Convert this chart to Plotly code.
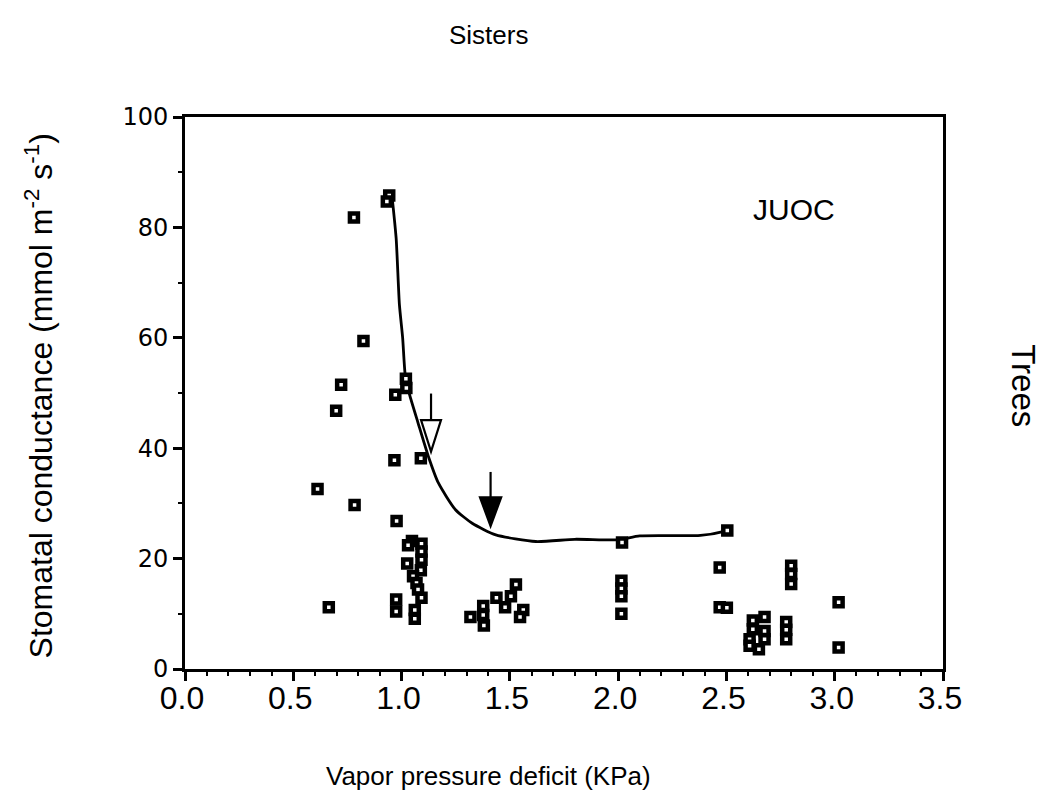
import plotly.graph_objects as go

# Measured stomatal conductance vs. vapour pressure deficit (Juniperus occidentalis, Sisters site)
vpd = [
    0.943, 0.932, 0.780, 0.824, 0.721, 1.020, 1.022, 0.971, 0.698, 0.967,
    1.089, 0.612, 0.783, 0.977, 1.048, 1.030, 1.092, 1.092, 1.092, 1.026,
    1.089, 1.053, 1.069, 1.076, 1.092, 1.061, 1.061, 0.975, 0.975, 0.664,
    1.318, 1.377, 1.377, 1.380, 1.438, 1.478, 1.505, 1.528, 1.562, 1.547,
    2.018, 2.015, 2.015, 2.015, 2.015, 2.504, 2.469, 2.469, 2.502,
    2.799, 2.799, 2.799, 3.018, 3.018,
    2.676, 2.622, 2.622, 2.676, 2.607, 2.676, 2.607, 2.650,
    2.776, 2.776, 2.776,
]
gs = [
    85.8, 84.7, 81.8, 59.4, 51.5, 52.6, 50.9, 49.7, 46.8, 37.8,
    38.2, 32.6, 29.7, 26.8, 23.2, 22.4, 22.7, 21.3, 19.8, 19.1,
    17.9, 16.8, 15.6, 14.4, 12.9, 10.7, 9.1, 12.6, 10.4, 11.2,
    9.4, 11.4, 9.8, 7.9, 12.9, 11.2, 13.2, 15.3, 10.7, 9.4,
    22.9, 16.0, 14.6, 13.2, 10.0, 25.1, 18.4, 11.2, 11.1,
    18.7, 17.2, 15.4, 12.1, 3.9,
    9.4, 8.8, 7.2, 6.9, 5.4, 5.4, 4.2, 3.6,
    8.5, 7.1, 5.4,
]

# Boundary line (upper envelope of conductance)
curve_vpd = [0.955, 0.975, 0.99, 1.005, 1.017, 1.037, 1.076, 1.123, 1.170, 1.248,
             1.326, 1.435, 1.62, 1.80, 2.00, 2.10, 2.38, 2.484, 2.504]
curve_gs = [86.0, 78.0, 66.0, 60.0, 53.2, 49.7, 44.6, 38.6, 33.7, 28.9,
            26.4, 24.3, 23.1, 23.5, 23.4, 24.1, 24.2, 24.9, 25.2]

# Arrows: (x, shaft top, head top, tip, half head width)
open_arrow = (1.136, 49.9, 45.1, 39.4, 0.046)
solid_arrow = (1.411, 35.7, 31.1, 25.9, 0.049)

x_ticks = [0.0, 0.5, 1.0, 1.5, 2.0, 2.5, 3.0, 3.5]
x_tick_text = ["0.0", "0.5", "1.0", "1.5", "2.0", "2.5", "3.0", "3.5"]
y_ticks = [0, 20, 40, 60, 80, 100]
y_tick_text = ["0", "20", "40", "60", "80", "100"]

fig = go.Figure()

fig.add_trace(go.Scatter(
    x=curve_vpd, y=curve_gs, mode="lines",
    line=dict(color="black", width=2.8, shape="spline", smoothing=0.6),
    hoverinfo="skip", showlegend=False,
))

fig.add_trace(go.Scatter(
    x=vpd, y=gs, mode="markers",
    marker=dict(symbol="square", size=8, color="white",
                line=dict(color="black", width=4.5)),
    showlegend=False,
))

shapes = []
for (ax, top, head, tip, hw), fill in ((open_arrow, "white"), (solid_arrow, "black")):
    shapes.append(dict(type="line", xref="x", yref="y", x0=ax, x1=ax, y0=top, y1=head,
                       line=dict(color="black", width=2.2)))
    shapes.append(dict(type="path", xref="x", yref="y",
                       path=f"M {ax - hw},{head} L {ax + hw},{head} L {ax},{tip} Z",
                       fillcolor=fill, line=dict(color="black", width=2.2)))

text_font = dict(family="Liberation Sans, Arial, sans-serif", color="black")

annotations = [
    dict(text="Sisters", xref="paper", yref="paper", x=0.4, y=1.149,
         showarrow=False, font=dict(size=26, **text_font), xanchor="center", yanchor="middle"),
    dict(text="JUOC", xref="x", yref="y", x=2.81, y=83.3,
         showarrow=False, font=dict(size=30, **text_font), xanchor="center", yanchor="middle"),
    dict(text="Trees", xref="paper", yref="paper", x=1.107, y=0.514, textangle=90,
         showarrow=False, font=dict(size=33, **text_font), xanchor="center", yanchor="middle"),
    dict(text="Vapor pressure deficit (KPa)", xref="paper", yref="paper", x=0.4, y=-0.193,
         showarrow=False, font=dict(size=26, **text_font), xanchor="center", yanchor="middle"),
    dict(text="Stomatal conductance (mmol m<sup>-2</sup> s<sup>-1</sup>)",
         xref="paper", yref="paper", x=-0.193, y=0.495, textangle=-90,
         showarrow=False, font=dict(size=32, **text_font), xanchor="center", yanchor="middle"),
]

fig.update_layout(
    width=1045, height=796,
    margin=dict(l=185, r=102, t=117, b=127),
    paper_bgcolor="white", plot_bgcolor="white",
    shapes=shapes, annotations=annotations,
    showlegend=False,
)

fig.update_xaxes(
    range=[0, 3.5], tickvals=x_ticks, ticktext=x_tick_text,
    ticks="outside", ticklen=9, tickwidth=2.5, tickcolor="black",
    minor=dict(dtick=0.1, ticks="outside", ticklen=4, tickwidth=2, tickcolor="black"),
    showline=True, linewidth=2.8, linecolor="black", mirror=True,
    showgrid=False, zeroline=False,
    ticklabelstandoff=-10, ticklabelshift=-3,
    tickfont=dict(family="Liberation Sans, Arial", size=32, color="black"),
)
fig.update_yaxes(
    range=[0, 100], tickvals=y_ticks, ticktext=y_tick_text,
    ticks="outside", ticklen=9, tickwidth=2.5, tickcolor="black",
    minor=dict(dtick=10, ticks="outside", ticklen=4, tickwidth=2, tickcolor="black"),
    showline=True, linewidth=2.8, linecolor="black", mirror=True,
    showgrid=False, zeroline=False,
    tickfont=dict(family="DejaVu Sans, sans-serif", size=24, color="black"),
)

fig.write_html("out.html")
